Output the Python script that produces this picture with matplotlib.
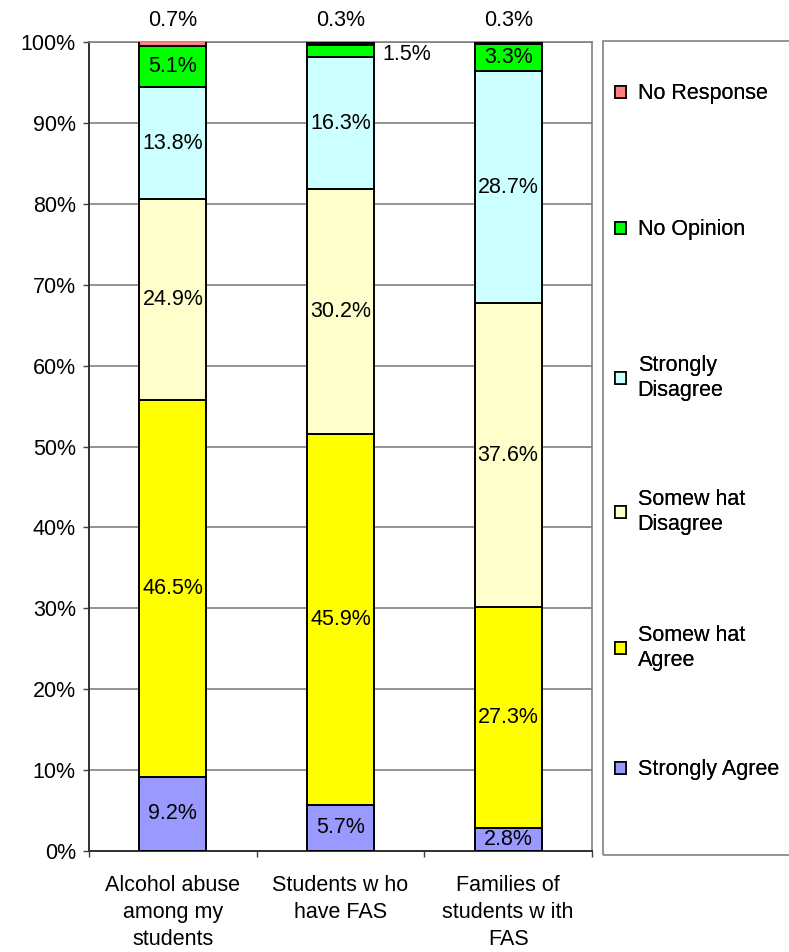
import matplotlib
matplotlib.use("Agg")
import matplotlib.pyplot as plt
from matplotlib.patches import Patch, Rectangle
import numpy as np

plt.rcParams['font.family'] = ['Liberation Sans', 'DejaVu Sans']

categories = ["Alcohol abuse\namong my\nstudents", "Students w ho\nhave FAS", "Families of\nstudents w ith\nFAS"]
series_names = ["Strongly Agree", "Somew hat\nAgree", "Somew hat\nDisagree", "Strongly\nDisagree", "No Opinion", "No Response"]
strongly_agree = [9.2, 5.7, 2.8]
somewhat_agree = [46.5, 45.9, 27.3]
somewhat_disagree = [24.9, 30.2, 37.6]
strongly_disagree = [13.8, 16.3, 28.7]
no_opinion = [5.1, 1.5, 3.3]
no_response = [0.7, 0.3, 0.3]
y_ticks = [0, 10, 20, 30, 40, 50, 60, 70, 80, 90, 100]

series = [strongly_agree, somewhat_agree, somewhat_disagree, strongly_disagree, no_opinion, no_response]
colors = ["#9999FF", "#FFFF00", "#FFFFCC", "#CCFFFF", "#00FF00", "#FF8080"]

FS = 15.5
W, H = 789, 952
fig = plt.figure(figsize=(W / 100, H / 100), dpi=100)
ax = fig.add_axes([89 / W, 1 - 851 / H, (592 - 89) / W, (851 - 42) / H])

x = np.arange(len(categories))
width = 0.4
bottom = np.zeros(len(categories))
for vals, col in zip(series, colors):
    ax.bar(x, vals, width, bottom=bottom, color=col, edgecolor="black", linewidth=1.4, zorder=3)
    bottom = bottom + np.array(vals)

# data labels
bottom = np.zeros(len(categories))
for si, vals in enumerate(series):
    for i, v in enumerate(vals):
        centre = bottom[i] + v / 2
        if si == 5:
            ax.text(x[i], 102.6, f"{v:.1f}%", ha="center", va="center", fontsize=FS, clip_on=False)
        elif si == 4 and v < 2:
            ax.text(x[i] + width / 2 + 0.05, centre - 0.4, f"{v:.1f}%", ha="left", va="center", fontsize=FS, zorder=4)
        else:
            ax.text(x[i], centre, f"{v:.1f}%", ha="center", va="center", fontsize=FS, zorder=4)
    bottom = bottom + np.array(vals)

ax.set_xlim(-0.5, 2.5)
ax.set_ylim(0, 100)
ax.set_yticks(y_ticks)
ax.set_yticklabels([f"{t}%" for t in y_ticks], fontsize=FS)
ax.yaxis.grid(True, color="#808080", linewidth=1.2, zorder=0)
ax.set_axisbelow(True)

ax.set_xticks(x)
ax.set_xticklabels(categories, fontsize=FS, va="top")
for t in ax.get_xticklabels():
    t.set_linespacing(1.38)
ax.set_xticks([-0.5, 0.5, 1.5, 2.5], minor=True)
ax.tick_params(axis="x", which="major", length=0, pad=17)
ax.tick_params(axis="x", which="minor", length=4.5, width=1, direction="out", color="#404040")
ax.tick_params(axis="y", length=4.5, width=1, direction="out", pad=5, color="#404040")

for s in ["left", "bottom"]:
    ax.spines[s].set_color("#303030")
    ax.spines[s].set_linewidth(1.4)
for s in ["top", "right"]:
    ax.spines[s].set_color("#808080")
    ax.spines[s].set_linewidth(1.2)

# legend: one entry per legend so entries sit at evenly spaced slots like the original
entry_centres_px = [94, 230, 378, 512, 648, 770]
handles = [Patch(facecolor=c, edgecolor="black", linewidth=1.2) for c in colors][::-1]
labels = series_names[::-1]
for h, lab, yc in zip(handles, labels, entry_centres_px):
    lg = fig.legend([h], [lab], loc="center left",
                    bbox_to_anchor=(615 / W, 1 - yc / H), frameon=False,
                    fontsize=FS, handlelength=0.5, handleheight=0.5,
                    handletextpad=0.55, borderpad=0, borderaxespad=0)
    for t in lg.get_texts():
        t.set_linespacing(1.3)
    fig.add_artist(lg)
fig.patches.append(Rectangle((603 / W, 1 - 855 / H), 200 / W, (855 - 41) / H,
                             transform=fig.transFigure, fill=False,
                             edgecolor="#808080", linewidth=1.2))

fig.savefig("out.png", dpi=100)
